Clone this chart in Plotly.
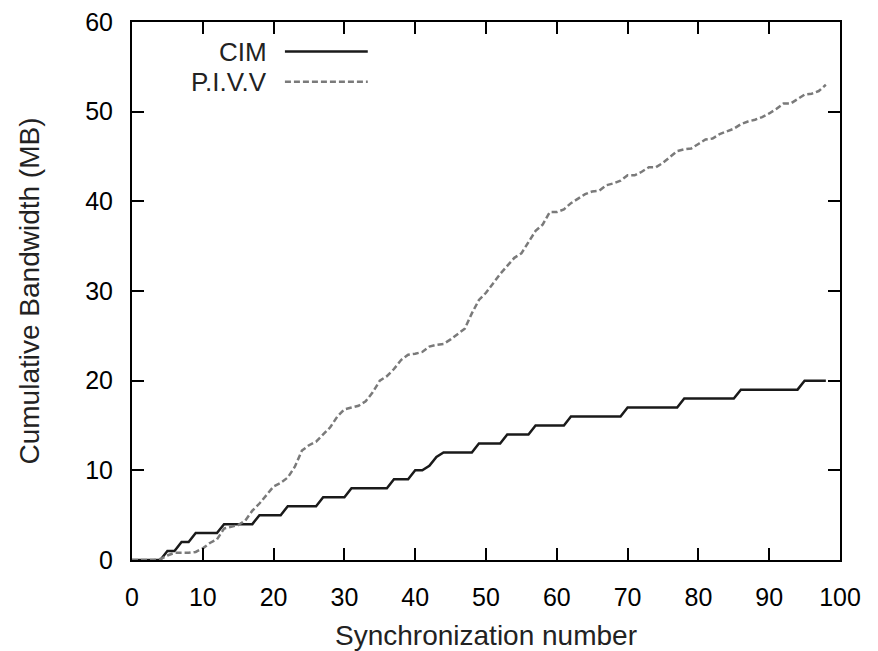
import plotly.graph_objects as go

sync = list(range(0, 99))

cim = [0, 0, 0, 0, 0, 1, 1, 2, 2, 3,
       3, 3, 3, 4, 4, 4, 4, 4, 5, 5,
       5, 5, 6, 6, 6, 6, 6, 7, 7, 7,
       7, 8, 8, 8, 8, 8, 8, 9, 9, 9,
       10, 10, 10.5, 11.5, 12, 12, 12, 12, 12, 13,
       13, 13, 13, 14, 14, 14, 14, 15, 15, 15,
       15, 15, 16, 16, 16, 16, 16, 16, 16, 16,
       17, 17, 17, 17, 17, 17, 17, 17, 18, 18,
       18, 18, 18, 18, 18, 18, 19, 19, 19, 19,
       19, 19, 19, 19, 19, 20, 20, 20, 20]

pivv = [0, 0, 0, 0, 0.1, 0.5, 0.8, 0.8, 0.8, 0.9,
        1.3, 1.9, 2.3, 3.5, 3.7, 3.9, 4.4, 5.5, 6.3, 7.3,
        8.2, 8.6, 9.2, 10.4, 12.2, 12.8, 13.2, 14.0, 14.8, 16.0,
        16.8, 17.0, 17.2, 17.7, 18.7, 20.0, 20.5, 21.3, 22.3, 22.9,
        23.0, 23.2, 23.8, 24.0, 24.1, 24.6, 25.2, 25.8, 27.5, 29.0,
        29.8, 30.9, 31.9, 32.8, 33.7, 34.2, 35.5, 36.7, 37.4, 38.8,
        38.8, 39.1, 39.8, 40.3, 40.8, 41.1, 41.2, 41.8, 42.0, 42.3,
        42.9, 42.9, 43.3, 43.8, 43.8, 44.3, 44.9, 45.6, 45.8, 45.9,
        46.4, 46.9, 47.0, 47.5, 47.8, 48.1, 48.6, 48.9, 49.1, 49.4,
        49.8, 50.3, 50.9, 50.9, 51.4, 51.9, 52.0, 52.3, 53.0]

x_ticks = list(range(0, 101, 10))
y_ticks = list(range(0, 61, 10))

FONT = "Liberation Sans, Arial, sans-serif"
CIM_COLOR = "#1a1a1a"
PIVV_COLOR = "#7a7a7a"
PIVV_DASH = "6px,3px"

fig = go.Figure()
fig.add_trace(go.Scatter(x=sync, y=cim, mode="lines", name="CIM",
                         line=dict(color=CIM_COLOR, width=2.5), showlegend=False))
fig.add_trace(go.Scatter(x=sync, y=pivv, mode="lines", name="P.I.V.V",
                         line=dict(color=PIVV_COLOR, width=2.5, dash=PIVV_DASH),
                         showlegend=False))

axis_common = dict(showline=True, linecolor="black", linewidth=2, mirror="ticks",
                   ticks="inside", ticklen=12, tickwidth=2, tickcolor="black",
                   showgrid=False, zeroline=False, automargin=False,
                   tickfont=dict(family=FONT, size=25, color="black"))

fig.update_xaxes(range=[0, 100], tickvals=x_ticks, ticklabelstandoff=14,
                 title=dict(text="Synchronization number", standoff=16,
                            font=dict(family=FONT, size=28, color="#222")),
                 **axis_common)
fig.update_yaxes(range=[0, 60], tickvals=y_ticks, ticklabelstandoff=12,
                 title=dict(text="Cumulative Bandwidth (MB)", standoff=37,
                            font=dict(family=FONT, size=28, color="#222")),
                 **axis_common)

# gnuplot-style legend: label text on the left, line sample on the right
legend_items = [("CIM", CIM_COLOR, "solid", 0.945),
                ("P.I.V.V", PIVV_COLOR, PIVV_DASH, 0.889)]
for label, color, dash, ypos in legend_items:
    fig.add_annotation(x=0.193, y=ypos, xref="paper", yref="paper", text=label,
                       showarrow=False, xanchor="right", yanchor="middle",
                       font=dict(family=FONT, size=26, color="#222"))
    fig.add_shape(type="line", xref="paper", yref="paper",
                  x0=0.216, x1=0.333, y0=ypos, y1=ypos,
                  line=dict(color=color, width=2.5, dash=dash))

fig.update_layout(width=878, height=651,
                  margin=dict(l=132, r=38, t=22, b=91),
                  paper_bgcolor="white", plot_bgcolor="white",
                  font=dict(family=FONT))

fig.write_html("out.html")
